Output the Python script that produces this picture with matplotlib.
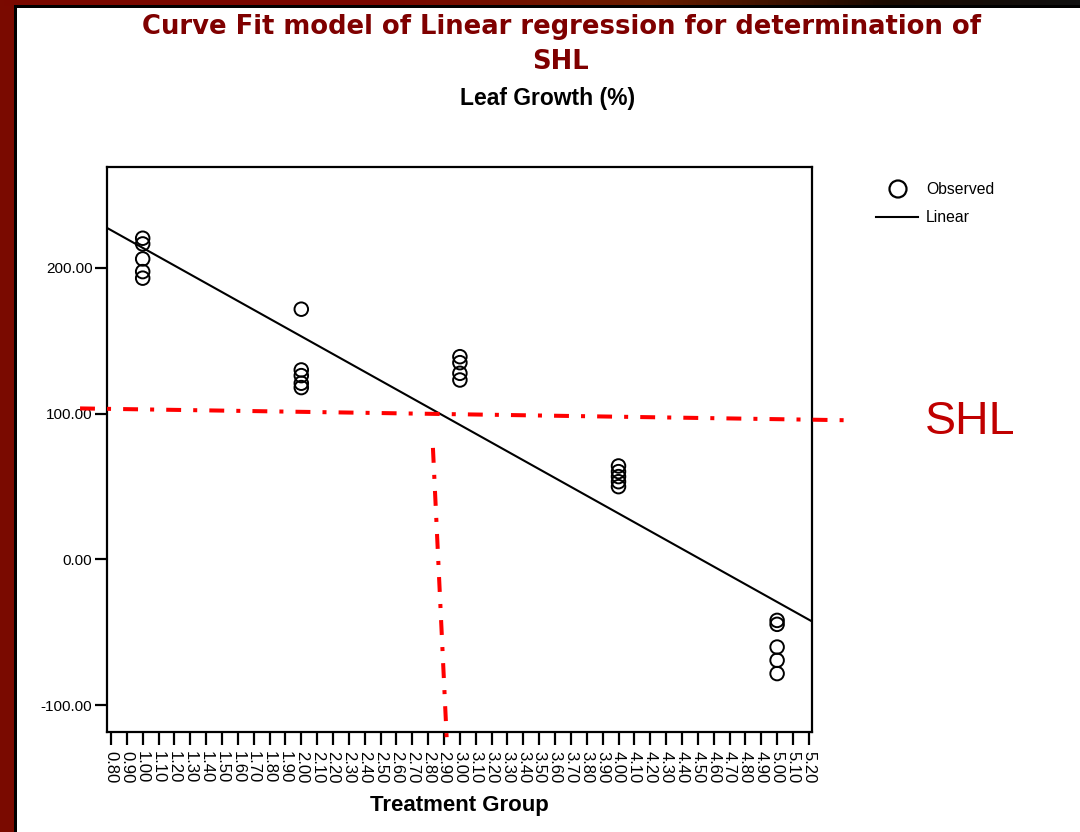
import numpy as np
import matplotlib
matplotlib.use("Agg")
import matplotlib.pyplot as plt
from matplotlib.lines import Line2D
from matplotlib.colors import LinearSegmentedColormap

# Observed leaf growth (%) per treatment group
group_1 = [220.4, 216.5, 206.2, 197.5, 193.0]
group_2 = [171.7, 130.0, 126.1, 120.9, 117.9]
group_3 = [139.1, 135.0, 127.7, 123.1]
group_4 = [64.1, 60.2, 56.8, 53.3, 49.9]
group_5 = [-41.9, -44.6, -60.2, -69.3, -78.4]
groups = [1.0, 2.0, 3.0, 4.0, 5.0]
observed = [group_1, group_2, group_3, group_4, group_5]

x_ticks = np.round(np.arange(0.8, 5.2001, 0.1), 2)
y_ticks = [-100, 0, 100, 200]

# SHL guide lines (hand-drawn style, in data units)
shl_h_x = [0.605, 5.428]
shl_h_y = [103.6, 95.5]
shl_v_x = [2.830, 2.919]
shl_v_y = [76.5, -128.1]

W, H = 1080, 832
fig = plt.figure(figsize=(W / 100, H / 100), dpi=100)
fig.patch.set_facecolor("white")

# Slide frame: dark red left band, gradient top bar
frame = fig.add_axes([0, 0, 1, 1], zorder=-5)
frame.set_xlim(0, W)
frame.set_ylim(H, 0)
frame.axis("off")
frame.add_patch(plt.Rectangle((0, 0), 14, H, color="#7A0A00", lw=0))
frame.add_patch(plt.Rectangle((14, 7), 3, H, color="black", lw=0))
cmap = LinearSegmentedColormap.from_list(
    "bar", [(0, "#7A0A00"), (0.35, "#7A0800"), (0.6, "#6A1E00"), (0.82, "#1A0A00"), (1, "#101010")])
frame.imshow(np.linspace(0, 1, 256)[None, :], cmap=cmap, aspect="auto",
             extent=(0, W, 6, 0), zorder=1)
frame.add_patch(plt.Rectangle((14, 5), W, 2.5, color="black", lw=0, zorder=2))

ax = fig.add_axes([107 / W, 1 - 732 / H, (812 - 107) / W, (732 - 167) / H])
ax.set_xlim(0.775, 5.22)
ax.set_ylim(-118.5, 269.3)

xs = np.concatenate([[g] * len(v) for g, v in zip(groups, observed)])
ys = np.concatenate(observed)
ax.scatter(xs, ys, s=95, facecolors="none", edgecolors="black", linewidths=1.4, zorder=3)

slope, intercept = np.polyfit(xs, ys, 1)
lx = np.array(ax.get_xlim())
ax.plot(lx, intercept + slope * lx, color="black", lw=1.5, zorder=2)

for s in ax.spines.values():
    s.set_linewidth(1.6)
ax.set_xticks(x_ticks)
ax.set_xticklabels([f"{t:.2f}" for t in x_ticks], rotation=-90,
                   fontsize=12, family="Liberation Sans")
ax.set_yticks(y_ticks)
ax.set_yticklabels([f"{t:.2f}" for t in y_ticks], fontsize=11, family="Liberation Sans")
ax.tick_params(axis="x", length=9.5, width=1.6, direction="out", pad=4.5)
ax.tick_params(axis="y", length=8.5, width=1.6, direction="out", pad=2)

# SHL guide lines
for gx, gy in ((shl_h_x, shl_h_y), (shl_v_x, shl_v_y)):
    ax.add_line(Line2D(gx, gy, color="#FF0000", lw=2.9, clip_on=False,
                       dashes=(3.7, 3.0, 1.0, 3.0), zorder=4))

narrow = ["Liberation Sans Narrow", "Liberation Sans"]
fig.text(561 / W, 1 - 27 / H, "Curve Fit model of Linear regression for determination of",
         ha="center", va="center", color="#7F0000", fontsize=18.6, fontweight="bold",
         family="DejaVu Sans")
fig.text(561 / W, 1 - 62 / H, "SHL", ha="center", va="center", color="#7F0000",
         fontsize=18.6, fontweight="bold", family="DejaVu Sans")
fig.text(548 / W, 1 - 99 / H, "Leaf Growth (%)", ha="center", va="center",
         fontsize=16.5, fontweight="bold", family=narrow)
fig.text(459 / W, 1 - 806 / H, "Treatment Group", ha="center", va="center",
         fontsize=16, fontweight="bold", family=narrow)
fig.text(970 / W, 1 - 422 / H, "SHL", ha="center", va="center", color="#C00000",
         fontsize=33.5, family="Liberation Sans")

# Legend
leg = fig.add_axes([0, 0, 1, 1], zorder=5)
leg.set_xlim(0, W)
leg.set_ylim(H, 0)
leg.axis("off")
leg.scatter([898], [189], s=150, facecolors="none", edgecolors="black", linewidths=1.6)
leg.text(926, 189, "Observed", va="center", ha="left", fontsize=11.3, family=narrow)
leg.plot([876, 918], [217, 217], color="black", lw=1.5)
leg.text(926, 218, "Linear", va="center", ha="left", fontsize=11.3, family=narrow)

fig.savefig("out.png", dpi=100)
